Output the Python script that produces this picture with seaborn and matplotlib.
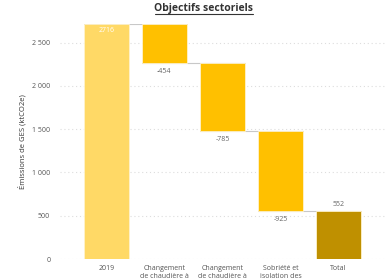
import pandas as pd
import numpy as np
import matplotlib.pyplot as plt
import seaborn as sns
from matplotlib.lines import Line2D
from matplotlib.ticker import FuncFormatter

# waterfall data
categories = ["2019", "Changement\nde chaudière à", "Changement\nde chaudière à",
              "Sobriété et\nisolation des", "Total"]
changes = [2716, -454, -785, -925, 552]
kinds = ["start", "delta", "delta", "delta", "total"]
value_labels = ["2716", "-454", "-785", "-925", "552"]

palette = {"start": "#FFD966", "delta": "#FFC000", "total": "#BF9000"}

# bottoms / heights for floating bars
bottoms = []
heights = []
level = 0
for c, k in zip(changes, kinds):
    if k == "delta":
        bottoms.append(level + c)
        heights.append(-c)
        level += c
    else:
        bottoms.append(0)
        heights.append(c)
        level = c
ids = [f"c{i}" for i in range(len(categories))]
df = pd.DataFrame({"id": ids, "cat": categories, "kind": kinds,
                   "bottom": bottoms, "height": heights})

sns.set_style("white")
plt.rcParams['font.family'] = ['Open Sans', 'DejaVu Sans']

fig = plt.figure(figsize=(3.89, 2.78), dpi=100)
ax = fig.add_axes([60 / 389, 1 - 259 / 278, 325 / 389, 235 / 278])

for kind, sub in df.groupby("kind", sort=False):
    sns.barplot(data=sub, x="id", y="height", order=ids, bottom=sub["bottom"].values,
                color=palette[kind], saturation=1, width=0.78, edgecolor="#fff3cc",
                linewidth=0.6, ax=ax, zorder=2)

# connector lines
hw = 0.39
for i in range(len(ids) - 1):
    top = df["bottom"][i] + df["height"][i] if kinds[i] != "delta" else df["bottom"][i]
    ax.plot([i - hw, i + 1 + hw], [top, top], color="#c8c8c8", lw=0.8, zorder=1)

# value labels
for i, (lab, k) in enumerate(zip(value_labels, kinds)):
    if k == "start":
        ax.text(i, df["height"][i] - 40, lab, ha="center", va="top",
                fontsize=5, color="white")
    elif k == "delta":
        ax.text(i, df["bottom"][i] - 50, lab, ha="center", va="top",
                fontsize=5, color="#666666")
    else:
        ax.text(i, df["height"][i] + 40, lab, ha="center", va="bottom",
                fontsize=5, color="#666666")

ax.set_xlim(-0.8, 4.8)
ax.set_ylim(0, 2716)
ax.set_yticks([0, 500, 1000, 1500, 2000, 2500])
ax.yaxis.set_major_formatter(FuncFormatter(lambda v, p: f"{int(v):,}".replace(",", " ")))
ax.set_xticks(range(len(categories)))
ax.set_xticklabels(categories, fontsize=5, color="#555555", linespacing=1.3)
ax.tick_params(axis="y", labelsize=5, colors="#555555", length=0, pad=7)
ax.tick_params(axis="x", length=0, pad=4)
ax.grid(axis="y", linestyle=(0, (1, 2.5)), color="#dddddd", lw=0.8, zorder=0)
ax.set_axisbelow(True)
for s in ax.spines.values():
    s.set_visible(False)
ax.set_xlabel("")
ax.set_ylabel("Émissions de GES (ktCO2e)", fontsize=5.5, color="#333333", labelpad=4)

t = fig.text(204 / 389, 1 - 9 / 278, "Objectifs sectoriels", ha="center", va="center",
             fontsize=7.5, fontweight="bold", color="#333333")
fig.canvas.draw()
bb = t.get_window_extent().transformed(fig.transFigure.inverted())
fig.add_artist(Line2D([bb.x0, bb.x1], [bb.y0 + 0.002, bb.y0 + 0.002],
                      color="#333333", lw=0.8, transform=fig.transFigure))

fig.savefig("out.png", dpi=100)
